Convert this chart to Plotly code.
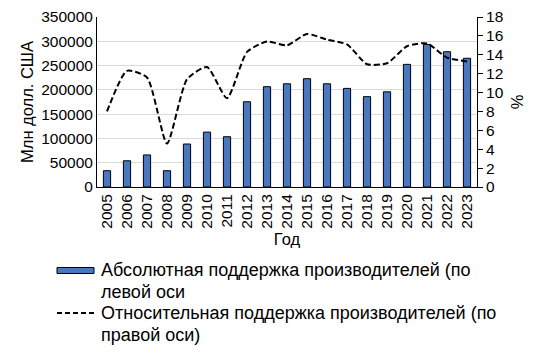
import plotly.graph_objects as go

years = [str(y) for y in range(2005, 2024)]
absolute = [33500, 54000, 66000, 33500, 88500, 113000, 103500, 175500, 206500,
            212500, 223000, 212500, 203000, 186000, 196000, 252500, 293500, 278500, 265000]
relative = [8.0, 12.3, 11.6, 4.6, 11.4, 12.7, 9.4, 14.3, 15.4,
            15.0, 16.2, 15.6, 15.1, 13.0, 13.1, 14.9, 15.2, 13.7, 13.3]
left_ticks = [0, 50000, 100000, 150000, 200000, 250000, 300000, 350000]
right_ticks = [0, 2, 4, 6, 8, 10, 12, 14, 16, 18]

legend_bar = ["Абсолютная поддержка производителей (по", "левой оси"]
legend_line = ["Относительная поддержка производителей (по", "правой оси)"]

FONT = "Liberation Sans, Arial, sans-serif"
BAR_COLOR = "#4a78c0"

# plot area in pixels (for placing the hand-made legend)
W, H = 543, 354
L, R, T, B = 97, 66, 17, 167
PW, PH = W - L - R, H - T - B


def px_x(x):
    return (x - L) / PW


def px_y(y):
    return (H - B - y) / PH


fig = go.Figure()
fig.add_trace(go.Bar(x=years, y=absolute, name=" ".join(legend_bar), width=0.36,
                     marker=dict(color=BAR_COLOR, line=dict(color="black", width=1)),
                     yaxis="y"))
fig.add_trace(go.Scatter(x=years, y=relative, name=" ".join(legend_line), mode="lines",
                         line=dict(color="black", width=2, dash="6px,3px", shape="spline", smoothing=0.6),
                         yaxis="y2"))

# legend symbols
fig.add_shape(type="rect", xref="paper", yref="paper",
              x0=px_x(57), x1=px_x(94), y0=px_y(273.5), y1=px_y(267.5),
              fillcolor=BAR_COLOR, line=dict(color="black", width=1))
fig.add_shape(type="line", xref="paper", yref="paper",
              x0=px_x(57), x1=px_x(94), y0=px_y(313), y1=px_y(313),
              line=dict(color="black", width=2, dash="5px,3px"))

rows = [(legend_bar[0], 270), (legend_bar[1], 292), (legend_line[0], 313), (legend_line[1], 335)]
for txt, yy in rows:
    fig.add_annotation(text=txt, xref="paper", yref="paper", x=px_x(99), y=px_y(yy),
                       xanchor="left", yanchor="middle", showarrow=False,
                       font=dict(size=18, family=FONT, color="black"))

fig.update_layout(
    width=W, height=H,
    margin=dict(l=L, r=R, t=T, b=B, autoexpand=False),
    paper_bgcolor="white", plot_bgcolor="white",
    font=dict(family=FONT, size=15.5, color="black"),
    showlegend=False,
    xaxis=dict(type="category", tickangle=-90, showline=True, linecolor="black",
               ticks="", showgrid=False, automargin=False,
               title=dict(text="Год", font=dict(size=16.5), standoff=5)),
    yaxis=dict(range=[0, 350000], tickvals=left_ticks, showline=True, linecolor="black",
               showgrid=True, gridcolor="#d9d9d9", gridwidth=1, ticks="", automargin=False,
               tickformat="d", zeroline=False,
               title=dict(text="Млн долл. США", font=dict(size=16.5), standoff=3)),
    yaxis2=dict(range=[0, 18], tickvals=right_ticks, overlaying="y", side="right",
                showline=True, linecolor="black", ticks="outside", ticklen=5, automargin=False,
                tickcolor="black", showgrid=False, zeroline=False,
                title=dict(text="%", font=dict(size=16.5), standoff=8)),
)

fig.write_html("out.html")
